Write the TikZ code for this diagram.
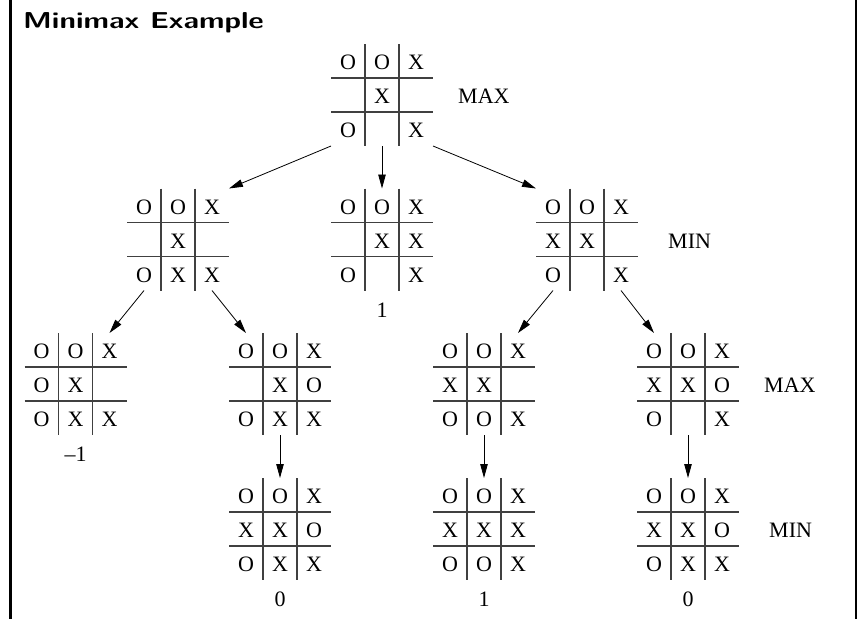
\documentclass[tikz,border=0pt]{standalone}
\usepackage{fontspec}
\newfontfamily\boardfont{Liberation Serif}
\newfontfamily\titlefont{lmsans10-bold.otf}[FakeStretch=1.28]
\usetikzlibrary{arrows.meta,positioning}
\tikzset{
  board/.style = {minimum size=102pt, inner sep=0pt, outer sep=0pt},
  cellmark/.style = {font=\boardfont\fontsize{22}{26}\selectfont,
                     inner sep=0pt, yshift=-1.5pt},
  score/.style = {font=\boardfont\fontsize{22}{26}\selectfont, inner sep=0pt},
  gridline/.style = {black!75, line width=1.2pt},
  move/.style = {-{Triangle[length=14pt,width=7.5pt]}, line width=0.8pt}
}

% board: name, x, y, the nine cells row by row
\newcommand{\board}[4]{%
  \node[board] (#1) at (#2,#3) {};
  \draw[gridline] (#2-17,#3-51) -- (#2-17,#3+51);
  \draw[gridline] (#2+17,#3-51) -- (#2+17,#3+51);
  \draw[gridline] (#2-51,#3-17) -- (#2+51,#3-17);
  \draw[gridline] (#2-51,#3+17) -- (#2+51,#3+17);
  \foreach \v [count=\i from 0] in {#4} {
    \pgfmathtruncatemacro{\col}{mod(\i,3)}
    \pgfmathtruncatemacro{\row}{int(\i/3)}
    \node[cellmark] (#1-\i) at (#2+\col*34-34,#3+\row*34-34) {\v};
  }
}

\begin{document}
\begin{tikzpicture}[x=1pt,y=-1pt]
	\useasboundingbox (0,0) rectangle (857,619);

	% Frame
	\draw[line width=3pt] (10.8,0) -- (10.8,619);
	\draw[line width=2pt] (856.3,0) -- (856.3,619);

	\node[anchor=base west, inner sep=0pt, font=\titlefont\fontsize{23}{27}\selectfont] (title) at (23,28.5) {Minimax Example};

	% Boards
	\board{s0}{382}{95}{O,O,X,,X,,O,,X}

	\board{s1}{178}{239.5}{O,O,X,,X,,O,X,X}
	\board{s2}{382}{239.5}{O,O,X,,X,X,O,,X}
	\board{s3}{587}{239.5}{O,O,X,X,X,,O,,X}

	\board{s4}{75.5}{384}{O,O,X,O,X,,O,X,X}
	\board{s5}{280}{384}{O,O,X,,X,O,O,X,X}
	\board{s6}{484}{384}{O,O,X,X,X,,O,O,X}
	\board{s7}{688}{384}{O,O,X,X,X,O,O,,X}

	\board{s8}{280}{529}{O,O,X,X,X,O,O,X,X}
	\board{s9}{484}{529}{O,O,X,X,X,X,O,O,X}
	\board{s10}{688}{529}{O,O,X,X,X,O,O,X,X}

	% Levels
	\node[cellmark, right=25pt of s0] (max0) {MAX};
	\node[cellmark, right=30pt of s3] (min1) {MIN};
	\node[cellmark, right=25pt of s7] (max2) {MAX};
	\node[cellmark, right=30pt of s10] (min3) {MIN};

	% Values
	\node[score, below=12pt of s2] (v2) {1};
	\node[score, below=12pt of s4] (v4) {\textendash1};
	\node[score, below=12pt of s8] (v8) {0};
	\node[score, below=12pt of s9] (v9) {1};
	\node[score, below=12pt of s10] (v10) {0};

	% Moves
	\draw[move] (s0.south west) -- (s1.north east);
	\draw[move] (s0.south) -- (s2.north);
	\draw[move] (s0.south east) -- (s3.north west);
	\draw[move] ([xshift=17pt]s1.south west) -- ([xshift=-17pt]s4.north east);
	\draw[move] ([xshift=-17pt]s1.south east) -- ([xshift=17pt]s5.north west);
	\draw[move] ([xshift=17pt]s3.south west) -- ([xshift=-17pt]s6.north east);
	\draw[move] ([xshift=-17pt]s3.south east) -- ([xshift=17pt]s7.north west);
	\draw[move] (s5.south) -- (s8.north);
	\draw[move] (s6.south) -- (s9.north);
	\draw[move] (s7.south) -- (s10.north);
\end{tikzpicture}
\end{document}
